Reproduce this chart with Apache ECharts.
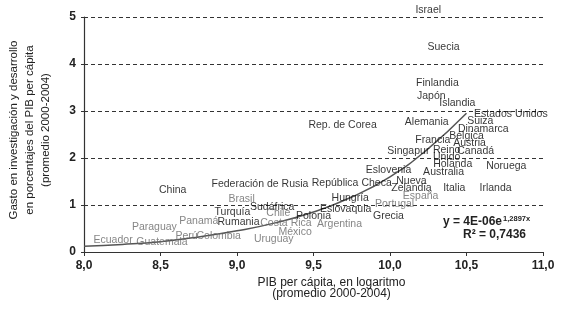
<!DOCTYPE html>
<html>
<head>
<meta charset="utf-8">
<script src="https://cdn.jsdelivr.net/npm/echarts@6/dist/echarts.min.js"></script>
<style>html,body{margin:0;padding:0;background:#fff}#c{width:567px;height:310px}</style>
</head>
<body>
<div id="c"></div>
<script>
// Countries outside Latin America / Iberia
const otherNames = ["Israel","Suecia","Finlandia","Japón","Islandia","Estados Unidos","Suiza","Alemania","Rep. de Corea","Dinamarca","Bélgica","Francia","Austria","Singapur","Reino\nUnido","Canadá","Holanda","Noruega","Eslovenia","Australia","Federación de Rusia","República Checa","Nueva\nZelandia","Italia","Irlanda","China","Hungría","Sudáfrica","Turquía","Eslovaquia","Polonia","Grecia","Rumania"];
const otherGdpLog = [10.25,10.35,10.31,10.27,10.44,10.79,10.59,10.24,9.69,10.61,10.50,10.28,10.52,10.12,10.37,10.56,10.41,10.76,9.99,10.35,9.15,9.75,10.14,10.42,10.69,8.58,9.74,9.23,8.97,9.71,9.50,9.99,9.01];
const otherRD = [5.15,4.35,3.60,3.32,3.17,2.94,2.79,2.77,2.70,2.62,2.47,2.38,2.32,2.15,2.09,2.15,1.87,1.83,1.74,1.70,1.45,1.47,1.44,1.36,1.36,1.32,1.15,0.96,0.85,0.91,0.77,0.77,0.64];

// Latin America and Iberia
const latamNames = ["España","Brasil","Portugal","Chile","Costa Rica","Argentina","Panamá","Paraguay","México","Uruguay","Perú","Colombia","Ecuador","Guatemala"];
const latamGdpLog = [10.20,9.03,10.03,9.27,9.32,9.67,8.75,8.46,9.38,9.24,8.67,8.88,8.19,8.51];
const latamRD = [1.19,1.13,1.02,0.83,0.62,0.60,0.66,0.53,0.43,0.28,0.34,0.34,0.26,0.21];

// Exponential trend line
const trendX = [8.0,8.25,8.5,8.75,9.0,9.25,9.5,9.75,10.0,10.25,10.5];
const trendY = [0.12,0.16,0.22,0.32,0.45,0.62,0.85,1.17,1.60,2.20,2.95];

const xTicks = ["8,0","8,5","9,0","9,5","10,0","10,5","11,0"];
const yTicks = ["0","1","2","3","4","5"];

const FONT = "'Liberation Sans', Arial, sans-serif";

function pts(names, xs, ys){
  return names.map((n,i)=>{
    const item = {name:n, value:[xs[i], ys[i]]};
    if (n.indexOf("\n")>=0) item.label = {lineHeight: 7};
    return item;
  });
}

const chart = echarts.init(document.getElementById('c'), null, {renderer:'canvas'});
chart.setOption({
  animation:false,
  grid:{left:84, right:24, top:17, bottom:58, containLabel:false, outerBoundsMode:'none'},
  xAxis:{
    type:'value', min:8, max:11, interval:0.5,
    axisLine:{show:true, lineStyle:{color:'#333', width:1.2}},
    axisTick:{show:true, length:4, lineStyle:{color:'#333'}},
    splitLine:{show:false},
    axisLabel:{fontFamily:FONT, fontSize:12, fontWeight:'bold', color:'#222', margin:8,
      formatter:(v)=>xTicks[Math.round((v-8)/0.5)]},
    name:'PIB per cápita, en logaritmo\n(promedio 2000-2004)',
    nameLocation:'middle', nameGap:22,
    nameTextStyle:{fontFamily:FONT, fontSize:12, color:'#222', lineHeight:11, padding:[0,0,0,36]}
  },
  yAxis:{
    type:'value', min:0, max:5, interval:1,
    axisLine:{show:true, lineStyle:{color:'#333', width:1.2}},
    axisTick:{show:true, length:3, lineStyle:{color:'#333'}},
    splitLine:{show:true, lineStyle:{color:'#333', type:[4,3], width:1}},
    axisLabel:{fontFamily:FONT, fontSize:12, fontWeight:'bold', color:'#222', margin:8,
      formatter:(v)=>yTicks[Math.round(v)]},
    name:'Gasto en investigación y desarrollo\nen porcentajes del PIB per cápita\n(promedio 2000-2004)',
    nameLocation:'middle', nameGap:30, nameRotate:90,
    nameTextStyle:{fontFamily:FONT, fontSize:11.5, color:'#222', lineHeight:16, padding:[0,0,0,9]}
  },
  series:[
    {
      type:'line', data:trendX.map((x,i)=>[x,trendY[i]]), smooth:true, showSymbol:false,
      lineStyle:{color:'#555', width:1.5}, z:1
    },
    {
      name:'Otros', type:'scatter', clip:false, symbolSize:1, itemStyle:{color:'rgba(0,0,0,0)'},
      data:pts(otherNames, otherGdpLog, otherRD),
      label:{show:true, position:'inside', formatter:'{b}', fontFamily:FONT, fontSize:10.5, color:'#000'},
      labelLayout:{hideOverlap:false},
      z:3
    },
    {
      name:'América Latina e Iberia', type:'scatter', clip:false, symbolSize:1, itemStyle:{color:'rgba(0,0,0,0)'},
      data:pts(latamNames, latamGdpLog, latamRD),
      label:{show:true, position:'inside', formatter:'{b}', fontFamily:FONT, fontSize:10.5, color:'#666'},
      labelLayout:{hideOverlap:false},
      z:3
    }
  ],
  graphic:[
    {type:'text', left:443, top:215, style:{
      text:'{a|y = 4E-06e}{s|1,2897x}', fontFamily:FONT,
      rich:{a:{fontSize:12, fontWeight:'bold', fill:'#222', fontFamily:FONT}, s:{fontSize:7.5, fontWeight:'bold', fill:'#222', fontFamily:FONT, verticalAlign:'top', padding:[0,0,6,1]}}
    }},
    {type:'text', left:463, top:229, style:{text:'R² = 0,7436', fontFamily:FONT, fontSize:12, fontWeight:'bold', fill:'#222'}}
  ]
});
</script>
</body>
</html>
